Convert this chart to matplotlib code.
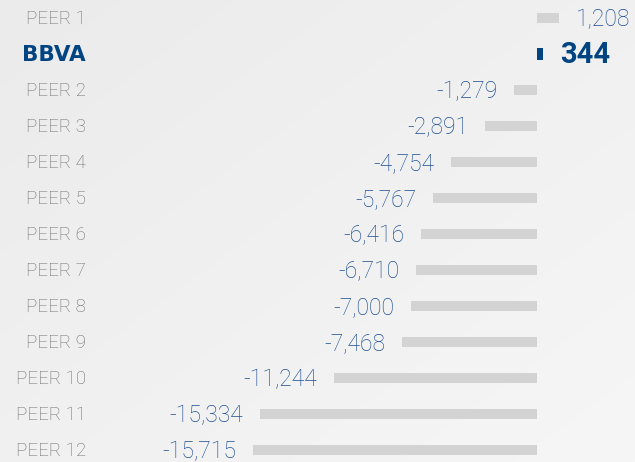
import numpy as np
import matplotlib
matplotlib.use("Agg")
import matplotlib.pyplot as plt
import matplotlib.transforms as mtransforms

names = ["PEER 1", "BBVA", "PEER 2", "PEER 3", "PEER 4", "PEER 5", "PEER 6",
         "PEER 7", "PEER 8", "PEER 9", "PEER 10", "PEER 11", "PEER 12"]
values = [1208, 344, -1279, -2891, -4754, -5767, -6416,
          -6710, -7000, -7468, -11244, -15334, -15715]

bar_grey = "#d3d3d3"
bbva_blue = "#004481"
num_blue = "#1d4f91"
label_grey = "#707070"

fig = plt.figure(figsize=(6.35, 4.62), dpi=100)

# soft grey gradient background
bg = fig.add_axes([0, 0, 1, 1])
gx, gy = np.meshgrid(np.linspace(0, 1, 200), np.linspace(0, 1, 200))
grad = 0.5 * gx + 0.5 * gy
bg.imshow(grad, cmap=matplotlib.colors.LinearSegmentedColormap.from_list(
    "bg", ["#ebebeb", "#f6f6f6"]), extent=[0, 1, 0, 1], aspect="auto", origin="upper")
bg.axis("off")

ax = fig.add_axes([0, 0, 1, 1])
ax.patch.set_alpha(0)

px = 0.01807  # pixels per unit
zero = 537
ax.set_xlim(-zero / px, (635 - zero) / px)
ax.set_ylim((462 - 18) / 36, -18 / 36)
ax.axis("off")

y = np.arange(len(names))
colors = [bbva_blue if n == "BBVA" else bar_grey for n in names]
heights = [0.32 if n == "BBVA" else 0.29 for n in names]
ax.barh(y, values, height=heights, color=colors)

trans = mtransforms.blended_transform_factory(fig.transFigure, ax.transData)
for i, (n, v) in enumerate(zip(names, values)):
    if n == "BBVA":
        ax.text(86 / 635, i + 0.02, "BBVA", transform=trans, ha="right", va="center",
                fontsize=15.5, fontweight="bold", color=bbva_blue, family="DejaVu Sans")
        ax.annotate(f"{v:,}", (v, i + 0.03), xytext=(12, 0), textcoords="offset points",
                    ha="left", va="center", fontsize=21, fontweight="bold",
                    color=bbva_blue, family="Roboto")
    else:
        ax.text(86 / 635, i + 0.04, n, transform=trans, ha="right", va="center",
                fontsize=13.5, color=label_grey, family="Roboto", fontweight="light")
        if v >= 0:
            ax.annotate(f"{v:,}", (v, i + 0.05), xytext=(12, 0), textcoords="offset points",
                        ha="left", va="center", fontsize=16.5, color=num_blue,
                        family="Roboto", fontweight="light")
        else:
            ax.annotate(f"{v:,}", (v, i + 0.05), xytext=(-12, 0), textcoords="offset points",
                        ha="right", va="center", fontsize=16.5, color=num_blue,
                        family="Roboto", fontweight="light")

fig.savefig("out.png", dpi=100)
